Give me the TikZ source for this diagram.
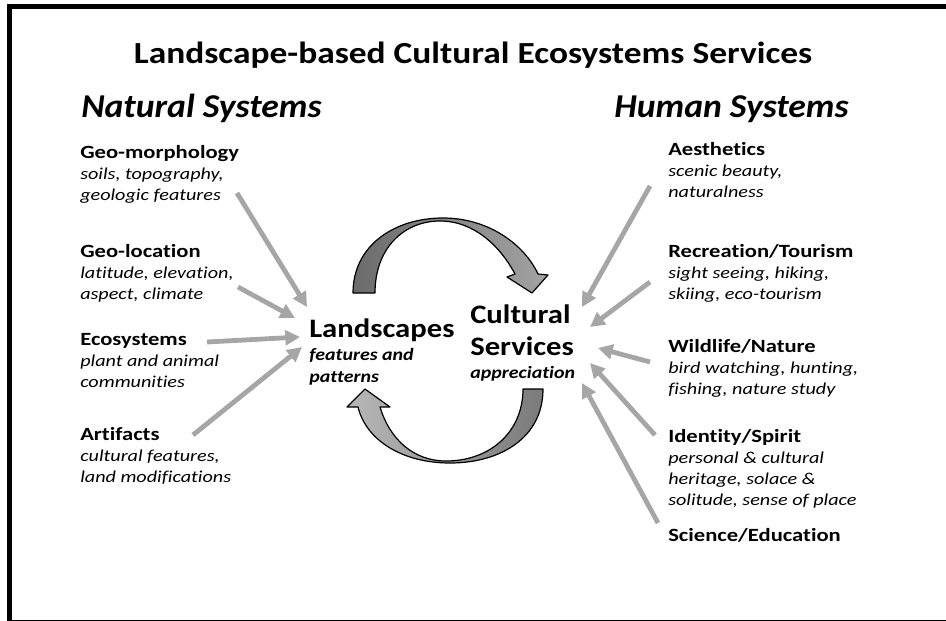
\documentclass[tikz,border=0pt]{standalone}
\usepackage{fontspec}
\setmainfont{Carlito}
\newfontfamily\ttlfam{Carlito}[FakeStretch=1.155]
\newfontfamily\natfam{Carlito}[FakeStretch=1.07]
\newfontfamily\itemfam{Carlito}[FakeStretch=1.21, Ligatures=NoCommon]
\newfontfamily\cenfam{Carlito}[FakeStretch=1.15, Ligatures=NoCommon]
\usetikzlibrary{arrows.meta}

\newcommand\ttlfont{\ttlfam\fontsize{23}{28}\selectfont\bfseries}
\newcommand\sysfont{\natfam\fontsize{25}{30}\selectfont\bfseries\itshape}
\newcommand\hdfont{\itemfam\fontsize{14}{16}\selectfont\bfseries\upshape}
\newcommand\dsfont{\itemfam\fontsize{12.5}{15.75}\selectfont\itshape}
\newcommand\cenfont{\cenfam\fontsize{20}{24}\selectfont\bfseries}
\newcommand\censub{\cenfam\fontsize{13}{16.5}\selectfont\bfseries\itshape}

\tikzset{
    item/.style={anchor=base west, inner sep=0pt, align=left, font=\dsfont},
    feed/.style={draw=black!35, line width=3.6pt, -{Triangle[length=11pt,width=11pt]}},
    loop/.style={draw=black, line width=0.9pt, line join=round}
}

\begin{document}
\begin{tikzpicture}[x=0.75pt, y=-0.75pt]
    \useasboundingbox (0,0) rectangle (946,621);
    \clip (0,0) rectangle (946,621);
    \draw[line width=3.75pt] (9.5,6.5) rectangle (975,622);

    % titles
    \node[anchor=base, inner sep=0pt, font=\ttlfont] (title) at (473,63) {Landscape-based Cultural Ecosystems Services};
    \node[anchor=base west, inner sep=0pt, font=\sysfont] (nat) at (81,117) {Natural Systems};
    \node[anchor=base west, inner sep=0pt, font=\sysfont] (hum) at (614,117) {Human Systems};

    % side items (placed by the baseline of their last line)
    \foreach \nm/\x/\y/\ttl/\txt in {
        gm/80/200/Geo-morphology/{soils, topography,\\ geologic features},
        gl/80/299/Geo-location/{latitude, elevation,\\ aspect, climate},
        eco/80/387/Ecosystems/{plant and animal\\ communities},
        art/80/482/Artifacts/{cultural features,\\ land modifications},
        aes/668/197/Aesthetics/{scenic beauty,\\ naturalness},
        rec/668/299/{Recreation/Tourism}/{sight seeing, hiking,\\ skiing, eco-tourism},
        wild/668/394/{Wildlife/Nature}/{bird watching, hunting,\\ fishing, nature study},
        iden/668/505/{Identity/Spirit}/{personal \& cultural\\ heritage, solace \&\\ solitude, sense of place}}
        \node[item] (\nm) at (\x,\y) {{\hdfont\ttl}\\\txt};
    \node[item, font=\hdfont] (sci) at (668,541) {Science/Education};

    % centre
    \node[anchor=base west, inner sep=0pt, font=\cenfont] (land) at (309,337) {Landscapes};
    \node[item, font=\censub] (landtxt) at (309,382) {features and\\ patterns};
    \node[anchor=base west, inner sep=0pt, font=\cenfont] (cult) at (470,323) {Cultural};
    \node[anchor=base west, inner sep=0pt, font=\cenfont] (serv) at (470,355) {Services};
    \node[anchor=base west, inner sep=0pt, font=\censub] (appr) at (470,378) {appreciation};

    % loop arrows
    \path[loop, left color=black!58, right color=black!36]
        (353,293) .. controls (353,245) and (395,218) .. (443,218)
        .. controls (488,218) and (524,244) .. (538,274)
        -- (548,275) -- (532,293) -- (507,277) -- (515,274)
        .. controls (500,246) and (474,221) .. (440,221)
        .. controls (404,221) and (375,248) .. (375,293) -- cycle;
    \path[loop, left color=black!28, right color=black!52]
        (543,389) .. controls (543,438) and (500,463) .. (450,463)
        .. controls (402,463) and (366,440) .. (358,407)
        -- (347,407) -- (365,389) -- (390,407) -- (380,407)
        .. controls (390,440) and (414,461) .. (446,461)
        .. controls (490,461) and (523,432) .. (523,389) -- cycle;

    % feeding arrows
    \foreach \i/\x/\y in {1/237/193, 2/238/287, 3/207/342, 4/193/435,
                          5/650/186, 6/650/282, 7/650/362, 8/655/435, 9/658/523}
        \coordinate (t\i) at (\x,\y);
    \foreach \src/\dx/\dy in {1/-2/-30, 2/-14/-19, 3/-9/0, 4/-7/10}
        \draw[feed] (t\src) -- ([shift={(\dx,\dy)}]land.base west);
    \foreach \src/\dx/\dy in {5/112/-48, 6/120/-28, 7/128/-7, 8/120/8, 9/112/28}
        \draw[feed] (t\src) -- ([shift={(\dx,\dy)}]serv.base west);
\end{tikzpicture}
\end{document}
